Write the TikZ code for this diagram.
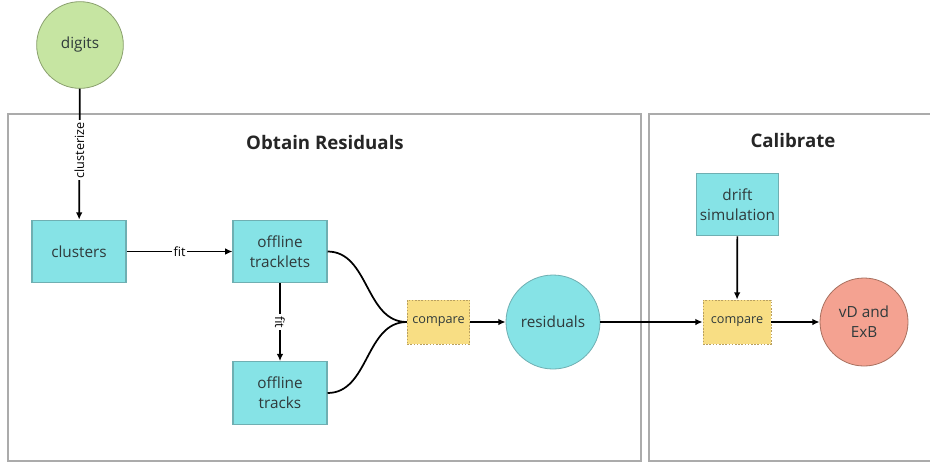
\documentclass[tikz,border=0pt]{standalone}
\usepackage{fontspec}
\setmainfont{Open Sans}
\usetikzlibrary{arrows.meta}
\definecolor{inktext}{HTML}{2F3A3B}
\definecolor{framegray}{HTML}{ABABAB}
\definecolor{aqua}{HTML}{86E3E6}
\definecolor{aquaedge}{HTML}{6FAFB2}
\definecolor{leaf}{HTML}{C6E5A2}
\definecolor{leafedge}{HTML}{8AA06E}
\definecolor{butter}{HTML}{F8DE84}
\definecolor{butteredge}{HTML}{B9A060}
\definecolor{salmon}{HTML}{F4A291}
\definecolor{salmonedge}{HTML}{A8705F}

\begin{document}
\begin{tikzpicture}[x=0.75pt, y=-0.75pt, text=inktext,
    stage/.style={draw=aquaedge, fill=aqua, line width=0.8pt, align=center,
      font=\fontsize{11.5}{15}\selectfont, minimum width=70.5pt, minimum height=47pt, inner sep=1pt},
    blob/.style={circle, draw=#1, line width=0.6pt, align=center, inner sep=0pt,
      font=\fontsize{11.5}{15}\selectfont},
    comparebox/.style={draw=butteredge, fill=butter, dashed, dash pattern=on 1.2pt off 1.2pt,
      line width=0.6pt, font=\fontsize{9.5}{11}\selectfont, minimum height=33pt, inner sep=1pt},
    flow/.style={-{Latex[length=5.5pt, width=5pt]}, line width=1.3pt, black},
    tag/.style={fill=white, font=\fontsize{9.5}{11}\selectfont, inner sep=1.5pt},
    frame/.style={draw=framegray, line width=1pt},
    heading/.style={font=\fontsize{14}{16}\selectfont\bfseries, text=black!85},
  ]
\useasboundingbox (0,0) rectangle (930,462);

% --- The two stages ----------------------------------------------------------------
\draw[frame] (8,114) rectangle (641,461);
\draw[frame] (931,114) -| (649,461) -- (931,461);
\node[heading] (obtaintitle) at (325,142) {Obtain Residuals};
\node[heading] (calibtitle) at (793,140) {Calibrate};

% --- Nodes ---------------------------------------------------------------------------
\node[blob=leafedge, fill=leaf, minimum size=65pt] (digits) at (80,45) {digits};
\node[stage] (clusters) at (79,251.5) {clusters};
\node[stage] (tracklets) at (280,251.5) {offline\\tracklets};
\node[stage] (tracks) at (280,393) {offline\\tracks};
\node[comparebox, minimum width=47pt] (cmpres) at (438.5,322) {compare};
\node[blob=aquaedge, fill=aqua, minimum size=70.5pt] (residuals) at (553,322) {residuals};
\node[stage, minimum width=61pt] (drift) at (737.5,204.5) {drift\\simulation};
\node[comparebox, minimum width=51pt] (cmpcal) at (737,322) {compare};
\node[blob=salmonedge, fill=salmon, minimum size=66pt] (vdexb) at (864,322) {vD and\\ExB};

% --- Connectors ------------------------------------------------------------------------
\draw[flow] (digits) -- node[tag, rotate=90, pos=0.47] {clusterize} (clusters);
\draw[flow] (clusters) -- node[tag] {fit} (tracklets);
\draw[flow] (tracklets) -- node[tag, rotate=-90] {fit} (tracks);
\draw[line width=1.3pt] (tracklets.east) to[out=0, in=180] (cmpres.west);
\draw[line width=1.3pt] (tracks.east) to[out=0, in=180] (cmpres.west);
\draw[flow] (cmpres) -- (residuals);
\draw[flow] (residuals) -- (cmpcal);
\draw[flow] (drift) -- (cmpcal);
\draw[flow] (cmpcal) -- (vdexb);
\end{tikzpicture}
\end{document}
